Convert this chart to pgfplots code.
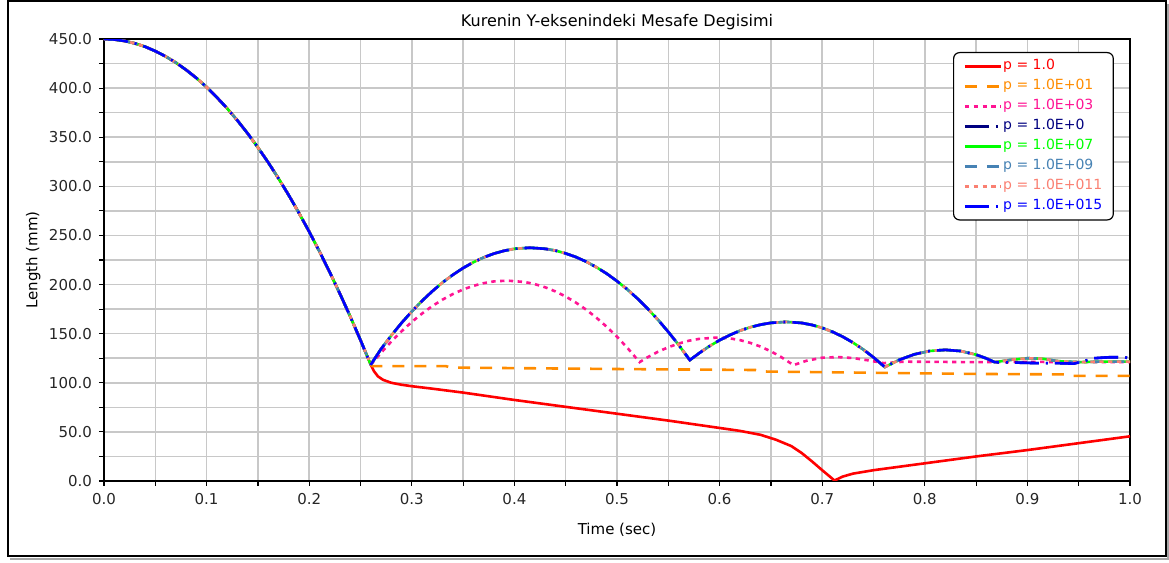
\documentclass[border=0pt]{standalone}
\usepackage{pgfplots}
\usepackage{pgfplotstable}
\usepackage{fontspec}
\setmainfont{DejaVu Sans}
\pgfplotsset{compat=1.18}

\definecolor{cRed}{HTML}{FF0000}
\definecolor{cOrange}{HTML}{FF8C00}
\definecolor{cPink}{HTML}{FF1493}
\definecolor{cNavy}{HTML}{000080}
\definecolor{cGreen}{HTML}{00FF00}
\definecolor{cSteel}{HTML}{4682B4}
\definecolor{cSalmon}{HTML}{FA8072}
\definecolor{cBlue}{HTML}{0000FF}
\definecolor{gridgray}{HTML}{C8C8C8}

% free fall, same for every run up to the first impact
\pgfplotstableread{
t y
0.00 450.0
0.01 449.5
0.02 448.0
0.03 445.6
0.04 442.2
0.05 437.7
0.06 432.3
0.07 426.0
0.08 418.6
0.09 410.3
0.10 401.0
0.11 390.6
0.12 379.4
0.13 367.1
0.14 353.9
0.15 339.6
0.16 324.4
0.17 308.2
0.18 291.1
0.19 272.9
0.20 253.8
0.21 233.7
0.22 212.6
0.23 190.5
0.24 167.5
0.25 143.4
0.26 118.4
}\fall

% p = 1.0
\pgfplotstableread{
t y
0.26 118.4
0.263 112.0
0.267 106.5
0.272 103.0
0.28 100.0
0.29 98.0
0.30 96.5
0.32 94.0
0.35 90.0
0.40 82.5
0.45 75.5
0.50 68.5
0.55 61.5
0.60 54.0
0.62 51.0
0.64 47.0
0.655 42.0
0.67 35.5
0.68 28.5
0.69 20.0
0.70 11.0
0.712 0.5
0.72 4.5
0.73 7.5
0.75 11.0
0.80 18.0
0.85 25.0
0.90 31.5
0.95 38.5
1.00 45.5
}\pone

% p = 1.0E+01
\pgfplotstableread{
t y
0.26 118.4
0.262 117.0
0.333 117.0
0.338 115.5
0.50 114.0
0.635 113.0
0.64 111.5
0.85 109.0
0.94 108.5
0.945 107.0
1.00 107.0
}\pten

% p = 1.0E+03
\pgfplotstableread{
t y
0.26 118.4
0.27 130.5
0.28 142.0
0.29 152.4
0.30 162.0
0.31 170.5
0.32 178.1
0.33 184.7
0.34 190.3
0.35 195.0
0.36 198.7
0.37 201.4
0.38 203.2
0.393 204.0
0.41 202.6
0.42 200.4
0.43 197.2
0.44 193.0
0.45 187.8
0.46 181.6
0.47 174.4
0.48 166.2
0.49 157.0
0.50 146.9
0.51 135.7
0.522 121.0
0.53 126.1
0.54 131.6
0.55 136.2
0.56 139.9
0.57 142.8
0.58 144.7
0.597 146.0
0.61 145.2
0.62 143.4
0.63 140.6
0.64 136.8
0.65 132.0
0.66 126.2
0.672 118.0
0.685 122.5
0.70 125.5
0.715 126.2
0.73 125.2
0.745 122.8
0.76 120.0
0.78 121.5
0.85 121.0
0.90 121.3
0.95 121.0
1.00 121.0
}\pthree

% stiff runs, ending A (dark blue / blue)
\pgfplotstableread{
t y
0.26 118.4
0.27 134.4
0.28 148.1
0.29 160.9
0.30 172.6
0.31 183.4
0.32 193.2
0.33 202.1
0.34 209.9
0.35 216.8
0.36 222.7
0.37 227.6
0.38 231.5
0.39 234.4
0.40 236.4
0.415 237.5
0.43 236.4
0.44 234.6
0.45 231.7
0.46 228.0
0.47 223.3
0.48 217.6
0.49 211.1
0.50 203.5
0.51 195.1
0.52 185.7
0.53 175.3
0.54 164.1
0.55 151.8
0.56 138.7
0.571 123.1
0.58 130.1
0.59 137.2
0.60 143.4
0.61 148.6
0.62 153.1
0.63 156.6
0.64 159.2
0.65 161.0
0.665 162.0
0.68 160.9
0.69 158.9
0.70 155.9
0.71 151.9
0.72 146.9
0.73 140.9
0.74 133.9
0.75 125.9
0.761 116.0
0.775 123.3
0.79 129.0
0.805 132.4
0.82 133.5
0.835 132.3
0.85 128.6
0.86 124.8
0.868 121.0
0.89 120.5
0.91 120.0
0.93 120.0
0.945 119.5
0.955 122.0
0.965 125.0
0.98 126.0
0.995 126.0
1.00 124.5
}\stiffA

% stiff runs, ending B (green / steel blue / salmon)
\pgfplotstableread{
t y
0.26 118.4
0.27 134.4
0.28 148.1
0.29 160.9
0.30 172.6
0.31 183.4
0.32 193.2
0.33 202.1
0.34 209.9
0.35 216.8
0.36 222.7
0.37 227.6
0.38 231.5
0.39 234.4
0.40 236.4
0.415 237.5
0.43 236.4
0.44 234.6
0.45 231.7
0.46 228.0
0.47 223.3
0.48 217.6
0.49 211.1
0.50 203.5
0.51 195.1
0.52 185.7
0.53 175.3
0.54 164.1
0.55 151.8
0.56 138.7
0.571 123.1
0.58 130.1
0.59 137.2
0.60 143.4
0.61 148.6
0.62 153.1
0.63 156.6
0.64 159.2
0.65 161.0
0.665 162.0
0.68 160.9
0.69 158.9
0.70 155.9
0.71 151.9
0.72 146.9
0.73 140.9
0.74 133.9
0.75 125.9
0.761 116.0
0.775 123.3
0.79 129.0
0.805 132.4
0.82 133.5
0.835 132.3
0.85 128.6
0.86 124.8
0.868 121.0
0.885 123.5
0.90 125.0
0.915 124.5
0.93 122.0
0.95 121.0
0.97 121.5
1.00 121.5
}\stiffB

\pgfplotsset{
  sRed/.style={cRed, line width=1.3pt},
  sOrange/.style={cOrange, line width=1.3pt, dash pattern=on 6pt off 5pt},
  sPink/.style={cPink, line width=1.3pt, dash pattern=on 2.2pt off 2.2pt},
  sNavy/.style={cNavy, line width=1.3pt, dash pattern=on 12pt off 3.5pt on 1pt off 3.5pt},
  sGreen/.style={cGreen, line width=1.3pt},
  sSteel/.style={cSteel, line width=1.3pt, dash pattern=on 6pt off 5pt},
  sSalmon/.style={cSalmon, line width=1.3pt, dash pattern=on 2.2pt off 2.2pt},
  sBlue/.style={cBlue, line width=1.3pt, dash pattern=on 12pt off 3.5pt on 1pt off 3.5pt},
}

\begin{document}
\begin{tikzpicture}[x=1pt,y=1pt]
\useasboundingbox (0,0) rectangle (584.5,281.5);
% outer panel frame with its shadow
\draw[gray!70, line width=0.8pt] (5,2) -- (584,2) -- (584,279.5);
\draw[black, line width=0.6pt] (4,3.5) rectangle (583,281);
\begin{axis}[
  at={(52pt,41pt)}, anchor=south west,
  scale only axis, width=513pt, height=221pt,
  xmin=0, xmax=1, ymin=0, ymax=450,
  xtick={0,0.1,0.2,0.3,0.4,0.5,0.6,0.7,0.8,0.9,1.0},
  ytick={0,50,100,150,200,250,300,350,400,450},
  minor x tick num=1, minor y tick num=1,
  grid=both,
  grid style={gridgray, line width=0.75pt},
  major grid style={gridgray, line width=0.75pt},
  minor grid style={gridgray, line width=0.75pt},
  tick pos=left, tick align=outside,
  major tick length=2.5pt, minor tick length=2.5pt,
  tick style={black, line width=0.6pt},
  axis line style={black, line width=0.7pt},
  scaled ticks=false,
  /pgf/number format/assume math mode=true,
  xticklabel style={/pgf/number format/.cd, fixed, fixed zerofill, precision=1},
  yticklabel style={/pgf/number format/.cd, fixed, fixed zerofill, precision=1},
  ticklabel style={font=\fontsize{7.5}{9}\selectfont, text=black!85},
  title={Kurenin Y-eksenindeki Mesafe Degisimi},
  every axis title shift=0pt,
  title style={at={(axis description cs:0.5,1.0385)}, anchor=center, font=\fontsize{8}{9.5}\selectfont},
  xlabel={Time (sec)},
  xlabel style={at={(axis description cs:0.5,-0.111)}, anchor=center, font=\fontsize{7.5}{9}\selectfont},
  ylabel={Length (mm)},
  ylabel style={at={(axis description cs:-0.069,0.5)}, anchor=center, font=\fontsize{7.5}{9}\selectfont},
  legend style={at={(axis description cs:0.8275,0.9706)}, anchor=north west,
    draw=black, line width=0.6pt, rounded corners=3pt, fill=white,
    font=\fontsize{7}{8}\selectfont, inner xsep=5pt, inner ysep=3pt,
    row sep=2.3pt, nodes={inner xsep=0.5pt, inner ysep=0.5pt},
    /tikz/every even column/.append style={column sep=0pt}},
  legend cell align=left,
  legend image code/.code={\draw plot coordinates {(0pt,0pt) (18pt,0pt)};},
]
\addplot[sRed, forget plot] table {\fall};
\addplot[sRed] table {\pone};
\addlegendentry{\textcolor{cRed}{p = 1.0}}
\addplot[sOrange, forget plot] table {\fall};
\addplot[sOrange] table {\pten};
\addlegendentry{\textcolor{cOrange}{p = 1.0E+01}}
\addplot[sPink, forget plot] table {\fall};
\addplot[sPink] table {\pthree};
\addlegendentry{\textcolor{cPink}{p = 1.0E+03}}
\addplot[sNavy, forget plot] table {\fall};
\addplot[sNavy] table {\stiffA};
\addlegendentry{\textcolor{cNavy}{p = 1.0E+0}}
\addplot[sGreen, forget plot] table {\fall};
\addplot[sGreen] table {\stiffB};
\addlegendentry{\textcolor{cGreen}{p = 1.0E+07}}
\addplot[sSteel, forget plot] table {\fall};
\addplot[sSteel] table {\stiffB};
\addlegendentry{\textcolor{cSteel}{p = 1.0E+09}}
\addplot[sSalmon, forget plot] table {\fall};
\addplot[sSalmon] table {\stiffB};
\addlegendentry{\textcolor{cSalmon}{p = 1.0E+011}}
\addplot[sBlue, forget plot] table {\fall};
\addplot[sBlue] table {\stiffA};
\addlegendentry{\textcolor{cBlue}{p = 1.0E+015}}
\end{axis}
\end{tikzpicture}
\end{document}
